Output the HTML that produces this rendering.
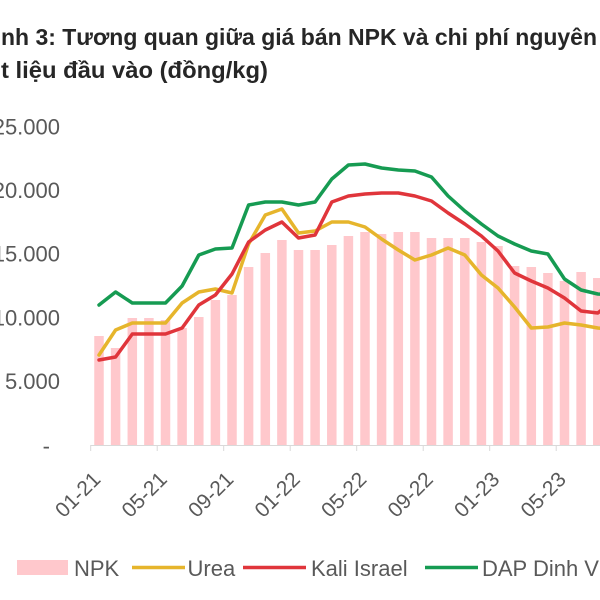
<!DOCTYPE html>
<html>
<head>
<meta charset="utf-8">
<style>
  html, body { margin:0; padding:0; background:#fff; }
  body { width:600px; height:600px; overflow:hidden; }
  svg { display:block; }
  text { font-family: "Liberation Sans", "DejaVu Sans", sans-serif; }
</style>
</head>
<body>
<svg width="600" height="600" viewBox="0 0 600 600" xmlns="http://www.w3.org/2000/svg">
  <rect width="600" height="600" fill="#ffffff"/>

  <!-- Title -->
  <text x="1" y="45" font-size="23" font-weight="bold" fill="#262626" textLength="596" lengthAdjust="spacingAndGlyphs">nh 3: Tương quan giữa giá bán NPK và chi phí nguyên</text>
  <text x="1" y="78" font-size="23" font-weight="bold" fill="#262626" textLength="267" lengthAdjust="spacingAndGlyphs">t liệu đầu vào (đồng/kg)</text>

  <!-- Y axis labels -->
  <g font-size="22" fill="#595959" text-anchor="end" dominant-baseline="central">
    <text x="60" y="127">25.000</text>
    <text x="60" y="190.6">20.000</text>
    <text x="60" y="254.2">15.000</text>
    <text x="60" y="317.8">10.000</text>
    <text x="60" y="381.4">5.000</text>
    <text x="50" y="446">-</text>
  </g>

  <!-- Bars (NPK) -->
  <g fill="#ffc8cc">
    <rect x="94.25" y="336" width="9.5" height="109"/>
    <rect x="110.85" y="348" width="9.5" height="97"/>
    <rect x="127.55" y="318" width="9.5" height="127"/>
    <rect x="144.15" y="318" width="9.5" height="127"/>
    <rect x="160.75" y="320" width="9.5" height="125"/>
    <rect x="177.35" y="328" width="9.5" height="117"/>
    <rect x="194.05" y="317" width="9.5" height="128"/>
    <rect x="210.65" y="300" width="9.5" height="145"/>
    <rect x="227.25" y="295" width="9.5" height="150"/>
    <rect x="243.85" y="267" width="9.5" height="178"/>
    <rect x="260.55" y="253" width="9.5" height="192"/>
    <rect x="277.15" y="240" width="9.5" height="205"/>
    <rect x="293.75" y="250" width="9.5" height="195"/>
    <rect x="310.35" y="250" width="9.5" height="195"/>
    <rect x="327.05" y="245" width="9.5" height="200"/>
    <rect x="343.65" y="236" width="9.5" height="209"/>
    <rect x="360.25" y="232" width="9.5" height="213"/>
    <rect x="376.85" y="234" width="9.5" height="211"/>
    <rect x="393.55" y="232" width="9.5" height="213"/>
    <rect x="410.15" y="232" width="9.5" height="213"/>
    <rect x="426.75" y="238" width="9.5" height="207"/>
    <rect x="443.35" y="238" width="9.5" height="207"/>
    <rect x="460.05" y="238" width="9.5" height="207"/>
    <rect x="476.65" y="242" width="9.5" height="203"/>
    <rect x="493.25" y="246" width="9.5" height="199"/>
    <rect x="509.85" y="266" width="9.5" height="179"/>
    <rect x="526.55" y="267" width="9.5" height="178"/>
    <rect x="543.15" y="273" width="9.5" height="172"/>
    <rect x="559.75" y="281" width="9.5" height="164"/>
    <rect x="576.35" y="272" width="9.5" height="173"/>
    <rect x="593.05" y="278" width="9.5" height="167"/>
  </g>

  <!-- X axis -->
  <line x1="90.7" y1="445.5" x2="600" y2="445.5" stroke="#d9d9d9" stroke-width="1"/>
  <g stroke="#d9d9d9" stroke-width="1">
    <line x1="90.7" y1="445" x2="90.7" y2="451"/>
    <line x1="157.2" y1="445" x2="157.2" y2="451"/>
    <line x1="223.7" y1="445" x2="223.7" y2="451"/>
    <line x1="290.2" y1="445" x2="290.2" y2="451"/>
    <line x1="356.7" y1="445" x2="356.7" y2="451"/>
    <line x1="423.2" y1="445" x2="423.2" y2="451"/>
    <line x1="489.7" y1="445" x2="489.7" y2="451"/>
    <line x1="556.2" y1="445" x2="556.2" y2="451"/>
  </g>

  <!-- Lines -->
  <g fill="none" stroke-width="3.5" stroke-linejoin="round" stroke-linecap="round">
    <!-- Urea (yellow) -->
    <polyline stroke="#e6b52c" points="99,355 115.6,330 132.3,323 148.9,323 165.5,323 182.1,303 198.8,292 215.4,289 232,293 248.6,244 265.3,215 281.9,209 298.5,233 315.1,231 331.8,222 348.4,222 365,227 381.6,239 398.3,250 414.9,260 431.5,255 448.1,248 464.8,255 481.4,275 498,288 514.6,307 531.3,328 547.9,327 564.5,323 581.1,325 597.8,328 614.4,330"/>
    <!-- Kali Israel (red) -->
    <polyline stroke="#e0353b" points="99,360 115.6,357 132.3,334 148.9,334 165.5,334 182.1,328 198.8,305 215.4,295 232,274 248.6,242 265.3,230 281.9,222 298.5,238 315.1,235 331.8,202 348.4,196 365,194 381.6,193 398.3,193 414.9,196 431.5,201 448.1,213 464.8,224 481.4,236 498,251 514.6,273 531.3,281 547.9,288 564.5,298 581.1,311 597.8,313 614.4,300"/>
    <!-- DAP (green) -->
    <polyline stroke="#169b52" points="99,305 115.6,292 132.3,303 148.9,303 165.5,303 182.1,286 198.8,255 215.4,249 232,248 248.6,205 265.3,202 281.9,202 298.5,205 315.1,202 331.8,179 348.4,165 365,164 381.6,168 398.3,170 414.9,171 431.5,177 448.1,196 464.8,211 481.4,224 498,236 514.6,244 531.3,251 547.9,254 564.5,279 581.1,290 597.8,294 614.4,295"/>
  </g>

  <!-- X labels -->
  <g font-size="21" fill="#595959" text-anchor="middle" dominant-baseline="central">
    <text x="78.2" y="495" transform="rotate(-45 78.2 495)">01-21</text>
    <text x="144.7" y="495" transform="rotate(-45 144.7 495)">05-21</text>
    <text x="211.2" y="495" transform="rotate(-45 211.2 495)">09-21</text>
    <text x="277.7" y="495" transform="rotate(-45 277.7 495)">01-22</text>
    <text x="344.2" y="495" transform="rotate(-45 344.2 495)">05-22</text>
    <text x="410.7" y="495" transform="rotate(-45 410.7 495)">09-22</text>
    <text x="477.2" y="495" transform="rotate(-45 477.2 495)">01-23</text>
    <text x="543.7" y="495" transform="rotate(-45 543.7 495)">05-23</text>
  </g>

  <!-- Legend -->
  <rect x="17" y="560" width="51" height="15" fill="#ffc8cc"/>
  <line x1="132" y1="567.5" x2="185" y2="567.5" stroke="#e6b52c" stroke-width="3.5"/>
  <line x1="243" y1="567.5" x2="306" y2="567.5" stroke="#e0353b" stroke-width="3.5"/>
  <line x1="425" y1="567.5" x2="478" y2="567.5" stroke="#169b52" stroke-width="3.5"/>
  <g font-size="22" fill="#595959">
    <text x="74" y="576">NPK</text>
    <text x="187.5" y="576">Urea</text>
    <text x="311" y="576">Kali Israel</text>
    <text x="482" y="576">DAP Dinh V</text>
  </g>
</svg>
</body>
</html>
